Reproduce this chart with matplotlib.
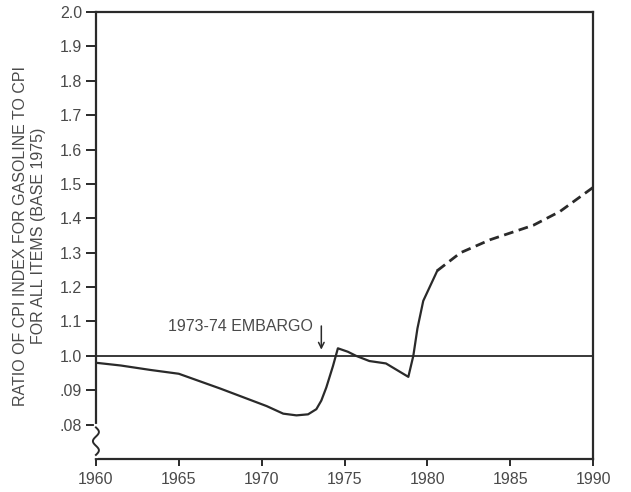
import matplotlib
matplotlib.use("Agg")
import matplotlib.pyplot as plt
import numpy as np

plt.rcParams['font.family'] = ['Liberation Sans', 'DejaVu Sans']

# Historical (solid) ratio
hist_years = [1960, 1961.5, 1963.3, 1965.0, 1967.5, 1970.3, 1971.3, 1972.1, 1972.8, 1973.3,
              1973.6, 1973.9, 1974.3, 1974.6, 1975.2, 1975.7, 1976.5, 1977.5, 1978.85,
              1979.15, 1979.4, 1979.75, 1980.6]
hist_ratio = [0.98, 0.972, 0.959, 0.948, 0.905, 0.854, 0.832, 0.827, 0.830, 0.845,
              0.870, 0.908, 0.970, 1.022, 1.012, 1.0, 0.985, 0.978, 0.939,
              1.0, 1.08, 1.16, 1.248]
# Projected (dashed) ratio
proj_years = [1980.6, 1982.0, 1983.8, 1986.4, 1988.0, 1990.0]
proj_ratio = [1.248, 1.30, 1.338, 1.38, 1.42, 1.49]

ytick_vals = [2.0, 1.9, 1.8, 1.7, 1.6, 1.5, 1.4, 1.3, 1.2, 1.1, 1.0, 0.9, 0.8]
ytick_labels = ['2.0', '1.9', '1.8', '1.7', '1.6', '1.5', '1.4', '1.3', '1.2', '1.1', '1.0', '.09', '.08']
xtick_vals = [1960, 1965, 1970, 1975, 1980, 1985, 1990]

ink = '#2a2a2a'
txt = '#4a4a4a'
fs = 11.5

fig = plt.figure(figsize=(6.31, 4.92), dpi=100)
ax = fig.add_axes([0.152, 0.067, 0.788, 0.9086])
ax.set_xlim(1960, 1990)
ax.set_ylim(0.7, 2.0)

ax.plot(hist_years, hist_ratio, color=ink, lw=1.6, solid_joinstyle='round')
ax.plot(proj_years, proj_ratio, color=ink, lw=2.0, dashes=(3.5, 2.0))
ax.axhline(1.0, color=ink, lw=1.3)

ax.set_yticks(ytick_vals)
ax.set_yticklabels(ytick_labels)
ax.set_xticks(xtick_vals)
ax.set_xticklabels([str(v) for v in xtick_vals])
ax.tick_params(axis='both', colors=ink, labelcolor=txt, labelsize=fs, width=1.4)
ax.tick_params(axis='y', direction='out', length=7, pad=3)
ax.tick_params(axis='x', direction='out', length=5, pad=4)
for s in ax.spines.values():
    s.set_color(ink)
    s.set_linewidth(1.6)

ax.set_ylabel('RATIO OF CPI INDEX FOR GASOLINE TO CPI\nFOR ALL ITEMS (BASE 1975)',
              color=txt, fontsize=fs, labelpad=10, linespacing=1.2)

# Embargo annotation
ax.text(1973.1, 1.085, '1973-74 EMBARGO', color=txt, fontsize=fs, ha='right', va='center')
ax.annotate('', xy=(1973.6, 1.01), xytext=(1973.6, 1.095),
            arrowprops=dict(arrowstyle='->', color=ink, lw=1.1))

# Axis break squiggle on the left spine
yy = np.linspace(0.712, 0.792, 80)
xx = 1960 + 0.18 * np.sin((yy - 0.712) / 0.08 * 3 * np.pi)
ax.plot([1960, 1960], [0.709, 0.795], color='white', lw=3, clip_on=False, zorder=4)
ax.plot(xx, yy, color=ink, lw=1.4, clip_on=False, zorder=5)

fig.savefig('out.png', dpi=100)
